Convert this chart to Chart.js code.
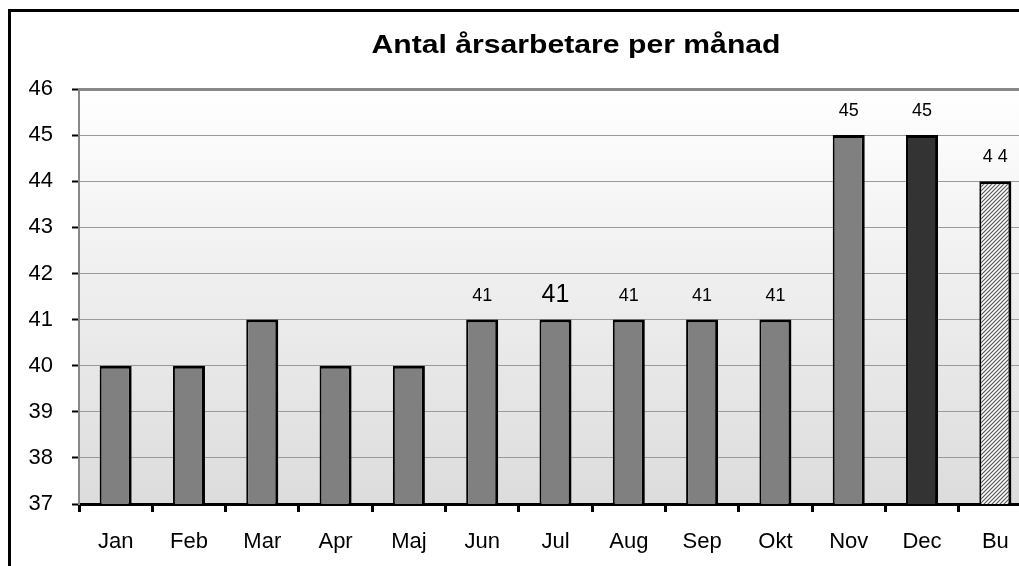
<!DOCTYPE html>
<html lang="sv">
<head>
<meta charset="UTF-8">
<title>Antal årsarbetare per månad</title>
<script src="https://cdn.jsdelivr.net/npm/chart.js"></script>
<style>
    html, body { margin: 0; padding: 0; background: #fff; overflow: hidden; }
    body { width: 1019px; height: 566px; position: relative; font-family: "Liberation Sans", Arial, sans-serif; }
    .frame { position: absolute; left: 8px; top: 9px; width: 1100px; height: 620px; border: 3px solid #000; }
    .wrap { position: absolute; left: 0; top: 0; width: 1045px; height: 566px; }
    .title {
        position: absolute; left: 576px; top: 29px; margin: 0;
        font-size: 26px; font-weight: bold; line-height: 30px; white-space: nowrap;
        transform: translateX(-50%) scaleX(1.16);
    }
</style>
</head>
<body>
<div class="frame"></div>
<div class="wrap"><canvas id="chart"></canvas></div>
<h1 class="title">Antal årsarbetare per månad</h1>
<script>
    const months = ['Jan', 'Feb', 'Mar', 'Apr', 'Maj', 'Jun', 'Jul', 'Aug', 'Sep', 'Okt', 'Nov', 'Dec', 'Bu'];
    const workers = [40, 40, 41, 40, 40, 41, 41, 41, 41, 41, 45, 45, 44];
    const valueLabels = [null, null, null, null, null, '41', '41', '41', '41', '41', '45', '45', '4 4'];
    const yMin = 37;
    const yMax = 46;

    const FONT = '"Liberation Sans", Arial, sans-serif';

    // hatched fill for the "Bu" bar
    function hatch() {
        const c = document.createElement('canvas');
        c.width = 4; c.height = 4;
        const g = c.getContext('2d');
        g.fillStyle = '#fff';
        g.fillRect(0, 0, 4, 4);
        g.strokeStyle = '#555';
        g.lineWidth = 1.2;
        g.beginPath();
        g.moveTo(0, 4); g.lineTo(4, 0);
        g.moveTo(-1, 1); g.lineTo(1, -1);
        g.moveTo(3, 5); g.lineTo(5, 3);
        g.stroke();
        return g.createPattern(c, 'repeat');
    }

    const colors = months.map((m, i) => i === 12 ? hatch() : (i === 11 ? '#333333' : '#808080'));

    const plotBackground = {
        id: 'plotBackground',
        beforeDraw(chart) {
            const { ctx, chartArea: a } = chart;
            const grad = ctx.createLinearGradient(0, a.top, 0, a.bottom);
            grad.addColorStop(0, '#ffffff');
            grad.addColorStop(1, '#dcdcdc');
            ctx.save();
            ctx.fillStyle = grad;
            ctx.fillRect(a.left, a.top, a.right - a.left, a.bottom - a.top);
            ctx.restore();
        }
    };

    const barLabels = {
        id: 'barLabels',
        afterDatasetsDraw(chart) {
            const { ctx } = chart;
            const meta = chart.getDatasetMeta(0);
            ctx.save();
            ctx.fillStyle = '#000';
            ctx.textAlign = 'center';
            ctx.textBaseline = 'middle';
            meta.data.forEach((bar, i) => {
                if (!valueLabels[i]) return;
                ctx.font = (i === 6 ? '25px ' : '18px ') + FONT;
                ctx.fillText(valueLabels[i], bar.x, bar.y - 24);
            });
            ctx.restore();
        }
    };

    new Chart(document.getElementById('chart'), {
        type: 'bar',
        data: {
            labels: months,
            datasets: [{
                data: workers,
                backgroundColor: colors,
                borderColor: '#000',
                borderWidth: { left: 2, right: 3, top: 3, bottom: 0 },
                borderSkipped: 'bottom',
                categoryPercentage: 1,
                barPercentage: 0.437
            }]
        },
        options: {
            responsive: true,
            maintainAspectRatio: false,
            animation: false,
            layout: { padding: { left: 0, right: 13, top: 89, bottom: 0 } },
            plugins: {
                legend: { display: false },
                tooltip: { enabled: false },
                title: { display: false }
            },
            scales: {
                x: {
                    afterFit: s => { s.height = 62; },
                    grid: {
                        drawOnChartArea: false,
                        drawTicks: true,
                        tickLength: 8,
                        tickColor: '#000',
                        tickWidth: 3
                    },
                    border: { color: '#000', width: 3 },
                    ticks: {
                        color: '#000',
                        padding: 17,
                        font: { family: FONT, size: 22 }
                    }
                },
                y: {
                    min: yMin,
                    max: yMax,
                    afterFit: s => { s.width = 79; },
                    grid: {
                        color: c => c.tick && c.tick.value === yMax ? '#888' : '#9a9a9a',
                        lineWidth: c => c.tick && c.tick.value === yMax ? 3 : 1,
                        tickLength: 7,
                        tickColor: '#000',
                        tickWidth: 2
                    },
                    border: { color: '#888', width: 2 },
                    ticks: {
                        stepSize: 1,
                        color: '#000',
                        padding: 19,
                        font: { family: FONT, size: 22 }
                    }
                }
            }
        },
        plugins: [plotBackground, barLabels]
    });
</script>
</body>
</html>
